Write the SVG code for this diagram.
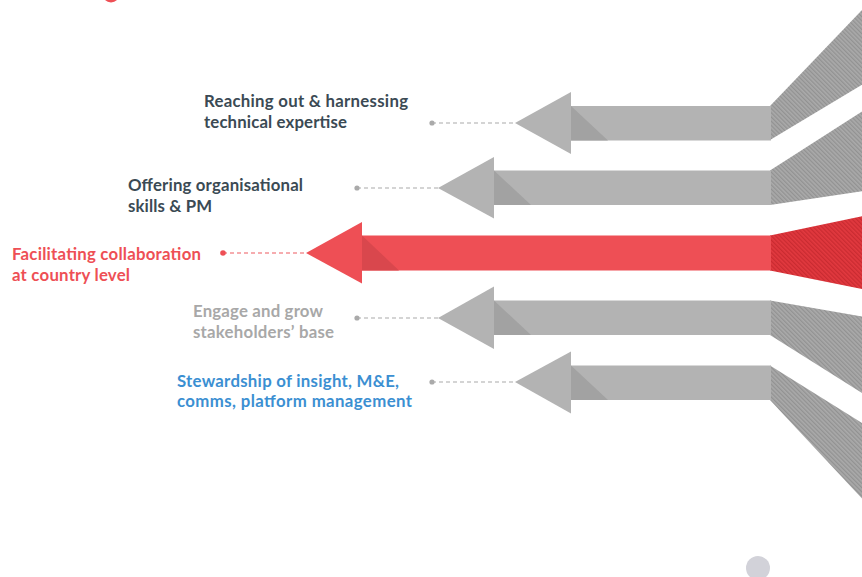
<svg xmlns="http://www.w3.org/2000/svg" width="862" height="577" viewBox="0 0 862 577">
<style>
.lbl{font-family:Lato,"Open Sans","Liberation Sans",sans-serif;font-weight:700;font-size:16.8px}
.dash{stroke:#aaaaaa;stroke-width:1.2;stroke-dasharray:4 3;fill:none}
.dashr{stroke:#ee5a60;stroke-width:1.2;stroke-dasharray:4 3;fill:none}
.shaft{fill:#b3b3b3}
.shade{fill:#a2a2a2}
.hatch{fill:url(#hg)}
.rshaft{fill:#ee4f55}
.rshade{fill:#d9474d}
.rhatch{fill:url(#hr)}
</style>
<defs>
<pattern id="hg" width="3" height="3" patternUnits="userSpaceOnUse" patternTransform="rotate(-45)">
<rect width="3" height="3" fill="#aaaaaa"/>
<rect width="1.3" height="3" fill="#929292"/>
</pattern>
<pattern id="hr" width="3" height="3" patternUnits="userSpaceOnUse" patternTransform="rotate(-45)">
<rect width="3" height="3" fill="#e2393f"/>
<rect width="1.3" height="3" fill="#c92b31"/>
</pattern>
</defs>
<rect width="862" height="577" fill="#ffffff"/>
<circle cx="111" cy="-6" r="8.5" fill="#ee4f55"/>
<circle cx="758" cy="568" r="12" fill="#d2d2d9"/>

<g id="connectors">
<line class="dash" x1="432" y1="123" x2="515" y2="123"/>
<circle cx="432" cy="123" r="2.6" fill="#aaaaaa"/>
<line class="dash" x1="357" y1="188" x2="438" y2="188"/>
<circle cx="357" cy="188" r="2.6" fill="#aaaaaa"/>
<line class="dashr" x1="223" y1="253" x2="306" y2="253"/>
<circle cx="223" cy="253" r="2.8" fill="#ee4f55"/>
<line class="dash" x1="357" y1="318" x2="438" y2="318"/>
<circle cx="357" cy="318" r="2.6" fill="#aaaaaa"/>
<line class="dash" x1="432" y1="382" x2="515" y2="382"/>
<circle cx="432" cy="382" r="2.6" fill="#aaaaaa"/>
</g>

<g id="arrow1">
<polygon class="hatch" points="770,106 870,1.6 870,80 770,140"/>
<rect class="shaft" x="570" y="106" width="201" height="34.5"/>
<polygon class="shaft" points="515,123 571,92 571,154"/>
<polygon class="shade" points="571,106 608,140.5 571,140.5"/>
</g>
<g id="arrow2">
<polygon class="hatch" points="770,170.5 870,106.5 870,190 770,205"/>
<rect class="shaft" x="493" y="170.5" width="278" height="34.5"/>
<polygon class="shaft" points="438,188 494,157 494,218.5"/>
<polygon class="shade" points="494,170.5 531,205 494,205"/>
</g>
<g id="arrow3">
<polygon class="rhatch" points="770,235.5 870,214.5 870,290.5 770,270.5"/>
<rect class="rshaft" x="361" y="235.5" width="410" height="35"/>
<polygon class="rshaft" points="306,253 362,222 362,283.5"/>
<polygon class="rshade" points="362,235.5 399,270.5 362,270.5"/>
</g>
<g id="arrow4">
<polygon class="hatch" points="770,300.5 870,318 870,398 770,335"/>
<rect class="shaft" x="493" y="300.5" width="278" height="34.5"/>
<polygon class="shaft" points="438,318 494,286.5 494,349"/>
<polygon class="shade" points="494,300.5 531,335 494,335"/>
</g>
<g id="arrow5">
<polygon class="hatch" points="770,365.5 870,428 870,507 770,400"/>
<rect class="shaft" x="570" y="365.5" width="201" height="34.5"/>
<polygon class="shaft" points="515,382 571,351.5 571,413.5"/>
<polygon class="shade" points="571,365.5 608,400 571,400"/>
</g>

<g id="label1" class="lbl" fill="#3b4a54">
<text x="204" y="107" textLength="204">Reaching out &amp; harnessing</text>
<text x="204" y="127.5" textLength="143">technical expertise</text>
</g>
<g id="label2" class="lbl" fill="#3b4a54">
<text x="128" y="191" textLength="175">Offering organisational</text>
<text x="128" y="211.5" textLength="84">skills &amp; PM</text>
</g>
<g id="label3" class="lbl" fill="#ee4f55">
<text x="12" y="259.5" textLength="189">Facilitating collaboration</text>
<text x="12" y="280.5" textLength="118">at country level</text>
</g>
<g id="label4" class="lbl" fill="#a8a8a8">
<text x="193" y="316.5" textLength="130">Engage and grow</text>
<text x="193" y="338" textLength="141">stakeholders’ base</text>
</g>
<g id="label5" class="lbl" fill="#3b8fd2">
<text x="177" y="386.5" textLength="222">Stewardship of insight, M&amp;E,</text>
<text x="177" y="407" textLength="235">comms, platform management</text>
</g>
</svg>
